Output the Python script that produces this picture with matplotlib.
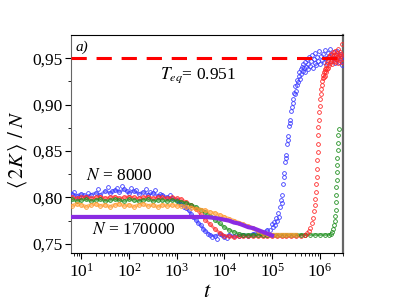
import numpy as np
import matplotlib
matplotlib.use('Agg')
import matplotlib.pyplot as plt
from matplotlib.ticker import FixedLocator, LogLocator, NullFormatter

plt.rcParams['font.family'] = ['Liberation Serif', 'DejaVu Serif']
plt.rcParams['mathtext.fontset'] = 'stix'

# log10(t) grid shared by the dense bands
log_t = [0.8, 0.9, 1.0, 1.1, 1.2, 1.3, 1.4, 1.5, 1.6, 1.7,
         1.8, 1.9, 2.0, 2.1, 2.2, 2.3, 2.4, 2.5, 2.6, 2.7,
         2.8, 2.9, 3.0, 3.1, 3.2, 3.3, 3.4, 3.5, 3.6, 3.7,
         3.8, 3.9, 4.0, 4.1, 4.2, 4.3, 4.4, 4.5, 4.6, 4.7,
         4.8, 4.9, 5.0, 5.1, 5.2, 5.3, 5.4, 5.5, 5.6, 5.7,
         5.8, 5.9, 6.0, 6.1, 6.2]

blue_band = [0.804, 0.802, 0.804, 0.801, 0.803, 0.805, 0.803, 0.807, 0.805, 0.808,
             0.806, 0.809, 0.805, 0.807, 0.804, 0.806, 0.803, 0.805, 0.802, 0.803,
             0.800, 0.799, 0.797, 0.793, 0.789, 0.782, 0.776, 0.770, 0.764, 0.760,
             0.758, 0.761, 0.757, 0.760, 0.758, 0.759, 0.760, 0.759, 0.761, 0.763,
             0.762, 0.765]
red_band = [0.800, 0.799, 0.800, 0.801, 0.799, 0.800, 0.801, 0.799, 0.800, 0.801,
            0.799, 0.800, 0.801, 0.800, 0.799, 0.800, 0.801, 0.799, 0.800, 0.800,
            0.799, 0.800, 0.799, 0.798, 0.795, 0.792, 0.788, 0.782, 0.776, 0.771,
            0.766, 0.762, 0.759, 0.758, 0.757, 0.758, 0.758, 0.758, 0.758, 0.758,
            0.758, 0.758, 0.758, 0.758, 0.758, 0.758, 0.758, 0.758, 0.759, 0.760]
green_band = [0.798, 0.796, 0.797, 0.798, 0.796, 0.797, 0.798, 0.796, 0.797, 0.798,
              0.797, 0.796, 0.798, 0.797, 0.796, 0.797, 0.798, 0.796, 0.797, 0.797,
              0.796, 0.797, 0.796, 0.795, 0.794, 0.792, 0.790, 0.787, 0.784, 0.780,
              0.776, 0.772, 0.768, 0.765, 0.763, 0.761, 0.760, 0.760, 0.760, 0.760,
              0.760, 0.760, 0.760, 0.760, 0.760, 0.760, 0.760, 0.760, 0.760, 0.760,
              0.760, 0.760, 0.760, 0.760, 0.760]
orange_band = [0.791, 0.793, 0.792, 0.790, 0.792, 0.793, 0.791, 0.792, 0.790, 0.792,
               0.793, 0.791, 0.792, 0.790, 0.792, 0.793, 0.791, 0.792, 0.790, 0.792,
               0.791, 0.792, 0.791, 0.791, 0.790, 0.789, 0.788, 0.787, 0.786, 0.784,
               0.783, 0.781, 0.779, 0.777, 0.775, 0.773, 0.771, 0.769, 0.767, 0.764,
               0.762, 0.761, 0.760, 0.760, 0.760, 0.760, 0.760, 0.760]
purple_band = [0.779, 0.779, 0.779, 0.779, 0.779, 0.779, 0.779, 0.779, 0.779, 0.779,
               0.779, 0.779, 0.779, 0.779, 0.779, 0.779, 0.779, 0.779, 0.779, 0.779,
               0.779, 0.779, 0.779, 0.779, 0.779, 0.779, 0.779, 0.779, 0.779, 0.7785,
               0.778, 0.777, 0.776, 0.775, 0.773, 0.772, 0.770, 0.768, 0.767, 0.765,
               0.763, 0.761, 0.759]

# scattered points (log10 t, value)
blue_scatter = [(0.85, 0.806), (0.95, 0.800), (1.05, 0.803), (1.15, 0.805), (1.35, 0.809),
                (1.55, 0.811), (1.65, 0.807), (1.75, 0.810), (1.85, 0.812), (1.95, 0.807),
                (2.05, 0.810), (2.15, 0.808), (2.35, 0.809), (2.45, 0.806), (2.55, 0.808),
                (2.65, 0.804), (2.85, 0.803), (3.05, 0.795), (3.15, 0.790), (3.25, 0.786),
                (3.35, 0.779), (3.45, 0.772), (3.55, 0.766), (3.65, 0.761), (3.75, 0.757),
                (3.85, 0.755), (3.95, 0.760), (4.05, 0.756)]
blue_rise = [(4.95, 0.765), (4.99, 0.771), (5.02, 0.768), (5.04, 0.774), (5.06, 0.770),
             (5.08, 0.778), (5.10, 0.775), (5.12, 0.783), (5.14, 0.779), (5.16, 0.790),
             (5.18, 0.797), (5.20, 0.794), (5.21, 0.803), (5.23, 0.815), (5.25, 0.826),
             (5.26, 0.822), (5.27, 0.838), (5.29, 0.846), (5.30, 0.842), (5.31, 0.858),
             (5.33, 0.866), (5.34, 0.862), (5.36, 0.877), (5.37, 0.884), (5.38, 0.880),
             (5.40, 0.893), (5.41, 0.898), (5.43, 0.906), (5.44, 0.902), (5.46, 0.913),
             (5.47, 0.920), (5.48, 0.911)]
blue_top = [(5.50, 0.915), (5.52, 0.921), (5.53, 0.927), (5.55, 0.924), (5.56, 0.931),
            (5.57, 0.935), (5.58, 0.928), (5.60, 0.938), (5.61, 0.933), (5.62, 0.941),
            (5.64, 0.936), (5.65, 0.944), (5.66, 0.939), (5.68, 0.935), (5.70, 0.946),
            (5.71, 0.941), (5.73, 0.949), (5.75, 0.938), (5.76, 0.944), (5.78, 0.951),
            (5.80, 0.942), (5.82, 0.947), (5.84, 0.954), (5.85, 0.940), (5.87, 0.949),
            (5.89, 0.945), (5.91, 0.956), (5.93, 0.943), (5.95, 0.951), (5.97, 0.947),
            (5.99, 0.958), (6.01, 0.944), (6.03, 0.952), (6.05, 0.948), (6.07, 0.955),
            (6.09, 0.946), (6.11, 0.959), (6.13, 0.950), (6.15, 0.944), (6.17, 0.956),
            (6.19, 0.952), (6.21, 0.960), (6.23, 0.947), (6.25, 0.954), (6.27, 0.950),
            (6.29, 0.957), (6.31, 0.945), (6.33, 0.953), (6.35, 0.949), (6.37, 0.958),
            (6.39, 0.951), (6.41, 0.946), (6.43, 0.955), (6.45, 0.950), (6.46, 0.943)]
red_rise = [(5.70, 0.760), (5.74, 0.762), (5.77, 0.764), (5.80, 0.767), (5.83, 0.772),
            (5.85, 0.778), (5.87, 0.785), (5.89, 0.792), (5.90, 0.798), (5.92, 0.806),
            (5.93, 0.814), (5.94, 0.822), (5.95, 0.831), (5.95, 0.840), (5.96, 0.849),
            (5.96, 0.858), (5.97, 0.867), (5.97, 0.876), (5.98, 0.884), (5.99, 0.892),
            (6.00, 0.899), (6.01, 0.906), (6.02, 0.912), (6.03, 0.917), (6.04, 0.921),
            (6.05, 0.925), (6.06, 0.929), (6.07, 0.932), (6.09, 0.935), (6.10, 0.938)]
red_top = [(6.08, 0.930), (6.10, 0.936), (6.11, 0.931), (6.12, 0.940), (6.13, 0.935),
           (6.14, 0.943), (6.15, 0.938), (6.16, 0.946), (6.17, 0.940), (6.18, 0.948),
           (6.19, 0.943), (6.20, 0.951), (6.21, 0.945), (6.22, 0.953), (6.23, 0.947),
           (6.24, 0.955), (6.25, 0.949), (6.26, 0.944), (6.27, 0.952), (6.28, 0.957),
           (6.29, 0.947), (6.30, 0.954), (6.31, 0.950), (6.32, 0.958), (6.33, 0.946),
           (6.34, 0.953), (6.35, 0.949), (6.36, 0.956), (6.37, 0.951), (6.38, 0.960),
           (6.39, 0.945), (6.40, 0.954), (6.41, 0.950), (6.42, 0.957), (6.43, 0.948),
           (6.44, 0.955), (6.45, 0.952), (6.46, 0.965), (6.46, 0.946)]
green_rise = [(6.24, 0.761), (6.26, 0.763), (6.28, 0.766), (6.30, 0.770), (6.31, 0.775),
              (6.32, 0.780), (6.33, 0.787), (6.34, 0.795), (6.35, 0.803), (6.35, 0.811),
              (6.36, 0.819), (6.36, 0.827), (6.37, 0.835), (6.37, 0.843), (6.38, 0.851),
              (6.38, 0.859), (6.39, 0.867), (6.40, 0.874)]

T_EQ = 0.951
yticks = [0.75, 0.80, 0.85, 0.90, 0.95]
ytick_labels = ['0,75', '0,80', '0,85', '0,90', '0,95']

BLUE = '#3b3bff'
RED = '#ff2a2a'
GREEN = '#1f8f1f'
ORANGE = '#ff9a2e'
PURPLE = '#8a2be2'


def unzip(pairs):
    a = np.array(pairs)
    return 10 ** a[:, 0], a[:, 1]


def band(ax, values, color, lw=2.0, alpha=0.6, markers=True):
    t = 10 ** np.array(log_t[:len(values)])
    ax.plot(t, values, '-', color=color, lw=lw, alpha=alpha, zorder=3)
    if markers:
        ax.plot(t, values, 'o', ms=2.7, mfc='none', mec=color, mew=0.6, zorder=3)


def dots(ax, pairs, color, z=3):
    t, v = unzip(pairs)
    ax.plot(t, v, 'o', ms=2.7, mfc='none', mec=color, mew=0.6, zorder=z)


fig = plt.figure(figsize=(3.98, 3.05), dpi=100)
ax = fig.add_axes([0.178, 0.170, 0.683, 0.715])

band(ax, blue_band, BLUE)
dots(ax, blue_scatter, BLUE)
dots(ax, blue_rise, BLUE)
dots(ax, blue_top, BLUE)
band(ax, red_band, RED)
dots(ax, red_rise, RED, z=4)
dots(ax, red_top, RED, z=4)
band(ax, green_band, GREEN)
dots(ax, green_rise, GREEN)
band(ax, orange_band, ORANGE, lw=2.6)
band(ax, purple_band, PURPLE, lw=3.0, alpha=1.0, markers=False)

ax.axhline(T_EQ - 0.001, color='red', lw=2.2, ls=(0, (5, 3.2)), zorder=5)

ax.set_xscale('log')
ax.set_xlim(10 ** 0.78, 10 ** 6.48)
ax.set_ylim(0.740, 0.975)
ax.set_yticks(yticks)
ax.set_yticklabels(ytick_labels)
ax.yaxis.set_minor_locator(FixedLocator([0.775, 0.825, 0.875, 0.925]))
ax.xaxis.set_major_locator(LogLocator(base=10, numticks=10))
ax.xaxis.set_minor_locator(LogLocator(base=10, subs=np.arange(2, 10), numticks=20))
ax.xaxis.set_minor_formatter(NullFormatter())
ax.tick_params(which='major', direction='out', length=4.5, width=0.8,
               labelsize=12.5, pad=1.5, top=False, right=False)
ax.tick_params(which='minor', direction='out', length=2.5, width=0.6,
               top=False, right=False)
ax.tick_params(axis='x', which='major', pad=2.5)

for side in ['left', 'right']:
    ax.spines[side].set_color('#666666')
ax.spines['right'].set_linewidth(1.6)

ax.text(0.018, 0.945, 'a)', transform=ax.transAxes, fontsize=11,
        style='italic', va='center', ha='left')
ax.text(10 ** 3.45, 0.932, r'$T_{eq}$= 0.951', fontsize=12.5, ha='center', va='center')
ax.text(10 ** 1.8, 0.823, r'$N$ = 8000', fontsize=12.5, ha='center', va='center')
ax.text(10 ** 2.1, 0.765, r'$N$ = 170000', fontsize=12.5, ha='center', va='center')

fig.text(0.045, 0.51, r'$\langle\,2K\,\rangle\ /\ N$', rotation=90,
         fontsize=15, ha='center', va='center')
fig.text(0.52, 0.04, r'$t$', fontsize=16, ha='center', va='center')

fig.savefig('out.png', dpi=100)
